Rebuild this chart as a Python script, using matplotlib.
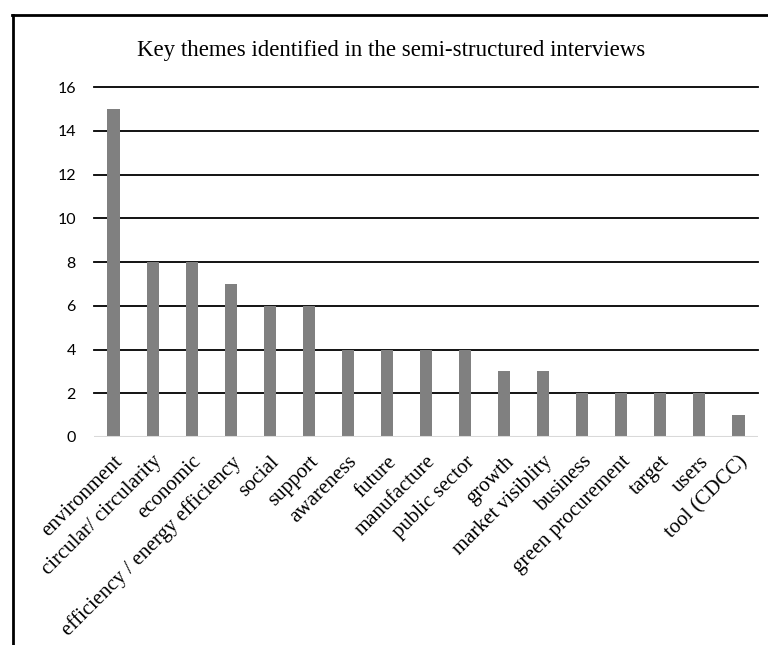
import matplotlib
matplotlib.use('Agg')
import matplotlib.pyplot as plt
from matplotlib.lines import Line2D

# themes and how often they came up
themes = ["environment", "circular/ circularity", "economic",
          "efficiency / energy efficiency", "social", "support", "awareness",
          "future", "manufacture", "public sector", "growth",
          "market visiblity", "business", "green procurement", "target",
          "users", "tool (CDCC)"]
counts = [15, 8, 8, 7, 6, 6, 4, 4, 4, 4, 3, 3, 2, 2, 2, 2, 1]
y_ticks = [0, 2, 4, 6, 8, 10, 12, 14, 16]

serif = "Liberation Serif"
sans = "Lato"

fig = plt.figure(figsize=(7.68, 6.45), dpi=100)
ax = fig.add_axes([0.1224, 0.3225, 0.8646, 0.5425])

positions = range(len(themes))
ax.bar(positions, counts, width=0.31, color="#808080", zorder=3)

ax.set_xlim(-0.5, len(themes) - 0.5)
ax.set_ylim(0, 16)
ax.set_yticks(y_ticks)
ax.set_yticklabels([str(t) for t in y_ticks], fontfamily=sans, fontsize=11.5)
ax.tick_params(axis="y", length=0, pad=13)
ax.tick_params(axis="x", length=0, pad=11)

# horizontal gridlines in black, baseline in light gray
for t in y_ticks[1:]:
    ax.axhline(t, color="black", linewidth=1.3, zorder=1, clip_on=False)
ax.axhline(0, color="#d9d9d9", linewidth=1.5, zorder=4)

for side in ["top", "right", "left", "bottom"]:
    ax.spines[side].set_visible(False)

ax.set_xticks(list(positions))
ax.set_xticklabels(themes, rotation=45, ha="right", va="top",
                   rotation_mode="anchor", fontfamily=serif, fontsize=15)

fig.text(0.509, 0.922, "Key themes identified in the semi-structured interviews",
         ha="center", va="center", fontfamily=serif, fontsize=16.5)

# outer frame (only left and top edges show)
fig.add_artist(Line2D([0.017, 0.017], [0.0, 0.977], color="black",
                      linewidth=2, transform=fig.transFigure))
fig.add_artist(Line2D([0.015, 1.0], [0.977, 0.977], color="black",
                      linewidth=2, transform=fig.transFigure))

fig.savefig("out.png", dpi=100, facecolor="white")
